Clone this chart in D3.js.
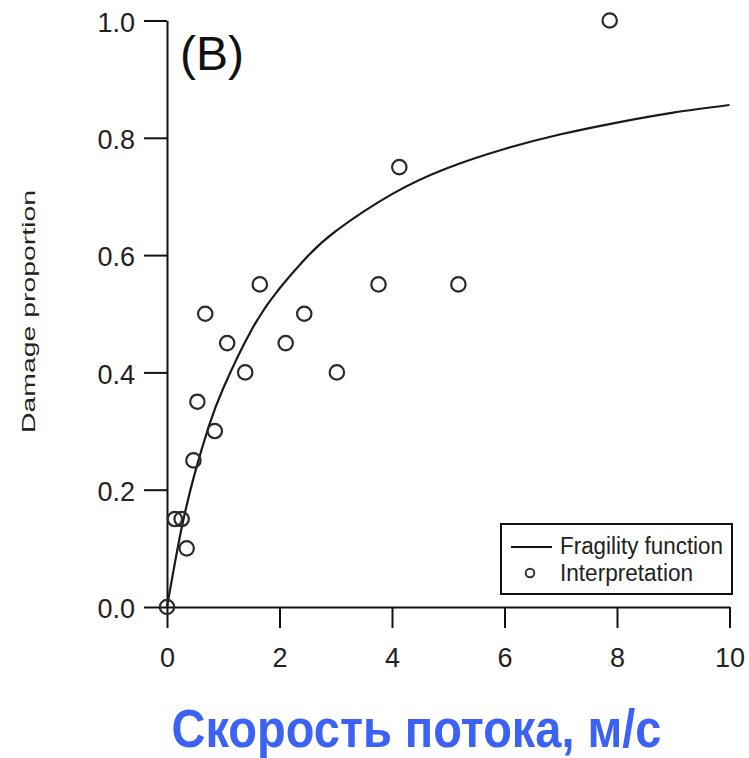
<!DOCTYPE html>
<html>
<head>
<meta charset="utf-8">
<script src="https://cdn.jsdelivr.net/npm/d3@7"></script>
<style>
  html, body { margin: 0; padding: 0; background: #fff; }
  svg { display: block; }
  text { font-family: "Liberation Sans", Arial, sans-serif; }
</style>
</head>
<body>
<svg id="chart" width="749" height="758"></svg>
<script>
// Observed damage proportions vs. flow velocity (m/s)
const velocity = [0, 0.14, 0.26, 0.35, 0.47, 0.54, 0.68, 0.85, 1.07, 1.39, 1.65, 2.11, 2.44, 3.02, 3.76, 4.13, 5.18, 7.87];
const damage   = [0, 0.15, 0.15, 0.10, 0.25, 0.35, 0.50, 0.30, 0.45, 0.40, 0.55, 0.45, 0.50, 0.40, 0.55, 0.75, 0.55, 1.00];

// Fragility function, sampled along the velocity axis
const curveVelocity = [0, 0.25, 0.5, 0.75, 1, 1.5, 2, 2.5, 3, 4, 5, 6, 7, 8, 9, 10];
const curveDamage   = [0, 0.13, 0.23, 0.31, 0.373, 0.472, 0.543, 0.598, 0.641, 0.704, 0.749, 0.781, 0.806, 0.826, 0.843, 0.856];

// Tick values
const xTicks = [0, 2, 4, 6, 8, 10];
const yTicks = [0, 0.2, 0.4, 0.6, 0.8, 1.0];

const legendLabels = ["Fragility function", "Interpretation"];
const panelLabel = "(B)";
const yTitle = "Damage proportion";
const xTitle = "Скорость потока, м/с";

const svg = d3.select("#chart");

const x = d3.scaleLinear().domain([0, 10]).range([167, 729.5]);
const y = d3.scaleLinear().domain([0, 1]).range([607, 20.5]);

// Axes
const yAxis = d3.axisLeft(y)
  .tickValues(yTicks)
  .tickFormat(d3.format(".1f"))
  .tickSize(23)
  .tickSizeOuter(0)
  .tickPadding(9);

const xAxis = d3.axisBottom(x)
  .tickValues(xTicks)
  .tickFormat(d3.format("d"))
  .tickSize(21)
  .tickSizeOuter(0)
  .tickPadding(20);

const gy = svg.append("g").attr("transform", `translate(${x(0)},0)`).call(yAxis);
const gx = svg.append("g").attr("transform", `translate(0,${y(0)})`).call(xAxis);

[gx, gy].forEach(g => {
  g.selectAll("path.domain").attr("stroke", "#111").attr("stroke-width", 2);
  g.selectAll(".tick line").attr("stroke", "#111").attr("stroke-width", 2);
  g.selectAll(".tick text")
    .attr("fill", "#222")
    .style("font-size", "27px")
    .style("font-family", "'Liberation Sans', Arial, sans-serif");
});
gy.selectAll(".tick text").attr("dy", "0.40em");

// Fragility curve
const line = d3.line()
  .x((d, i) => x(curveVelocity[i]))
  .y(d => y(d))
  .curve(d3.curveNatural);

svg.append("path")
  .datum(curveDamage)
  .attr("d", line)
  .attr("fill", "none")
  .attr("stroke", "#1a1a1a")
  .attr("stroke-width", 2.2);

// Interpretation points
svg.append("g")
  .selectAll("circle")
  .data(velocity)
  .join("circle")
  .attr("cx", d => x(d))
  .attr("cy", (d, i) => y(damage[i]))
  .attr("r", 7.2)
  .attr("fill", "none")
  .attr("stroke", "#2a2a2a")
  .attr("stroke-width", 2.2);

// Panel label
svg.append("text")
  .attr("x", 180)
  .attr("y", 70)
  .style("font-size", "48px")
  .attr("fill", "#111")
  .text(panelLabel);

// Y axis title
svg.append("text")
  .attr("transform", "translate(35,311.5) rotate(-90)")
  .attr("text-anchor", "middle")
  .attr("textLength", 243)
  .attr("lengthAdjust", "spacingAndGlyphs")
  .style("font-size", "17.5px")
  .attr("fill", "#222")
  .text(yTitle);

// X axis title
svg.append("text")
  .attr("x", 171.5)
  .attr("y", 747)
  .attr("textLength", 490)
  .attr("lengthAdjust", "spacingAndGlyphs")
  .style("font-size", "53px")
  .style("font-weight", "bold")
  .attr("fill", "#3b62f4")
  .text(xTitle);

// Legend
const legend = svg.append("g");
legend.append("rect")
  .attr("x", 501).attr("y", 524)
  .attr("width", 231).attr("height", 70)
  .attr("fill", "#fff")
  .attr("stroke", "#111")
  .attr("stroke-width", 2);
legend.append("line")
  .attr("x1", 511).attr("x2", 552)
  .attr("y1", 547).attr("y2", 547)
  .attr("stroke", "#111").attr("stroke-width", 2.2);
legend.append("circle")
  .attr("cx", 530).attr("cy", 573).attr("r", 4.3)
  .attr("fill", "none").attr("stroke", "#333").attr("stroke-width", 2);
legend.append("text")
  .attr("x", 560).attr("y", 554)
  .attr("textLength", 163)
  .attr("lengthAdjust", "spacingAndGlyphs")
  .style("font-size", "23px")
  .attr("fill", "#222")
  .text(legendLabels[0]);
legend.append("text")
  .attr("x", 560).attr("y", 581)
  .attr("textLength", 133)
  .attr("lengthAdjust", "spacingAndGlyphs")
  .style("font-size", "23px")
  .attr("fill", "#222")
  .text(legendLabels[1]);
</script>
</body>
</html>
